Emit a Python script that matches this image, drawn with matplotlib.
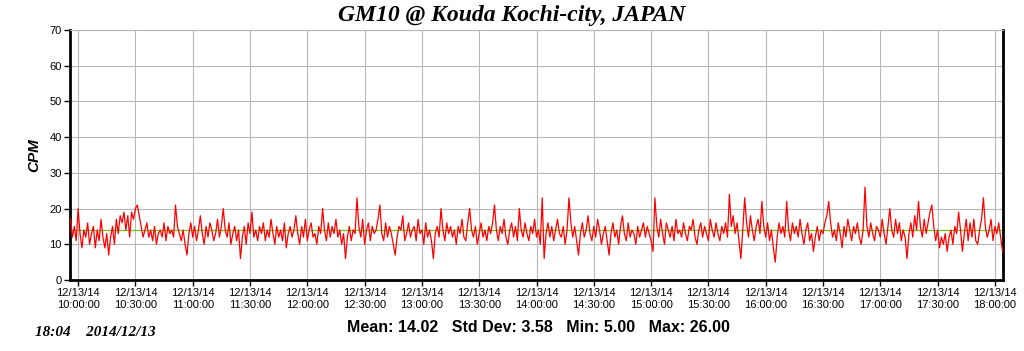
import matplotlib
matplotlib.use("Agg")
import matplotlib.pyplot as plt
import matplotlib.dates as mdates
import numpy as np
import pandas as pd

# counts per minute, one reading per minute from 09:56 to 18:04
cpm = [
    17, 12, 15, 11, 20, 13, 9, 14, 12, 16, 10, 13, 15, 9, 14, 11, 17, 12, 9, 13,
    7, 12, 15, 10, 17, 13, 18, 16, 19, 14, 18, 12, 19, 17, 20, 21, 18, 15, 12, 14,
    16, 12, 14, 11, 15, 10, 13, 14, 12, 16, 11, 15, 13, 14, 12, 21, 15, 13, 11, 14,
    10, 7, 13, 16, 12, 15, 11, 14, 18, 13, 10, 15, 12, 16, 14, 11, 13, 17, 12, 15,
    20, 14, 12, 16, 10, 13, 15, 11, 14, 6, 12, 15, 10, 16, 13, 19, 12, 14, 11, 15,
    13, 16, 11, 14, 12, 17, 13, 10, 15, 12, 14, 11, 16, 9, 13, 15, 12, 14, 18, 13,
    10, 15, 12, 17, 11, 14, 16, 12, 13, 10, 15, 13, 20, 14, 11, 16, 12, 15, 13, 17,
    12, 14, 10, 13, 6, 12, 15, 11, 14, 13, 23, 15, 12, 17, 10, 14, 16, 11, 15, 13,
    14, 17, 21, 13, 11, 16, 12, 15, 13, 10, 7, 12, 15, 14, 18, 11, 13, 16, 12, 14,
    15, 11, 17, 13, 14, 10, 16, 12, 14, 11, 6, 13, 15, 12, 20, 14, 11, 16, 13, 15,
    12, 14, 10, 15, 13, 17, 12, 11, 16, 20, 14, 12, 15, 10, 13, 16, 12, 14, 11, 15,
    13, 16, 21, 14, 11, 15, 13, 17, 12, 10, 14, 16, 12, 15, 11, 20, 14, 12, 16, 13,
    11, 15, 13, 17, 12, 14, 10, 23, 6, 13, 16, 12, 15, 11, 14, 17, 13, 12, 15, 10,
    14, 23, 16, 12, 15, 11, 7, 13, 16, 12, 14, 18, 13, 11, 15, 12, 17, 14, 10, 13,
    15, 11, 7, 13, 16, 12, 14, 10, 15, 18, 13, 11, 16, 12, 14, 13, 10, 15, 12, 14,
    16, 12, 15, 13, 11, 8, 23, 15, 12, 17, 13, 10, 16, 14, 12, 15, 11, 17, 13, 14,
    12, 16, 13, 11, 15, 14, 17, 12, 10, 14, 16, 12, 15, 13, 11, 17, 14, 12, 16, 13,
    11, 15, 13, 16, 12, 24, 15, 18, 13, 16, 11, 6, 14, 23, 16, 12, 18, 14, 11, 15,
    17, 13, 22, 15, 12, 16, 11, 14, 9, 5, 12, 16, 13, 15, 12, 22, 14, 11, 16, 13,
    15, 12, 17, 13, 10, 14, 16, 11, 13, 8, 12, 15, 11, 14, 13, 16, 18, 22, 16, 12,
    14, 11, 16, 13, 9, 15, 12, 17, 14, 11, 15, 13, 16, 12, 10, 14, 26, 15, 12, 16,
    13, 11, 15, 14, 12, 17, 13, 10, 15, 20, 14, 12, 17, 13, 16, 11, 14, 12, 6, 13,
    16, 12, 18, 14, 22, 15, 12, 17, 13, 16, 19, 21, 15, 11, 14, 9, 12, 10, 13, 8,
    12, 14, 10, 15, 13, 19, 14, 8, 13, 17, 11, 16, 12, 17, 11, 10, 14, 17, 23, 15,
    12, 14, 17, 11, 15, 13, 16, 12, 8,
]
start_time = "2014-12-13 09:56"
mean_cpm = 14.02
stats_text = "Mean: 14.02   Std Dev: 3.58   Min: 5.00   Max: 26.00"
stamp_text = "18:04    2014/12/13"
title = "GM10 @ Kouda Kochi-city, JAPAN"

times = pd.date_range(start_time, periods=len(cpm), freq="1min")

fig = plt.figure(figsize=(10.24, 3.51), dpi=100)
ax = fig.add_axes([70 / 1024, 1 - 280 / 351, 933 / 1024, 250 / 351])

ax.plot(times, cpm, color="#ff0000", lw=0.9, zorder=3)
ax.axhline(mean_cpm, color="#66cc00", lw=0.9, zorder=2)

ax.set_ylim(0, 70)
ax.set_yticks(np.arange(0, 71, 10))
ax.set_xlim(pd.Timestamp("2014-12-13 09:55:45"), pd.Timestamp("2014-12-13 18:04:15"))
ax.xaxis.set_major_locator(mdates.MinuteLocator(byminute=[0, 30]))
ax.xaxis.set_major_formatter(mdates.DateFormatter("%m/%d/%y\n%H:%M:%S"))

ax.grid(True, color="#b8b8b8", lw=0.8, zorder=0)
for side in ["left", "bottom", "right"]:
    ax.spines[side].set_linewidth(2)
    ax.spines[side].set_color("black")
ax.spines["top"].set_linewidth(0.8)
ax.spines["top"].set_color("#b8b8b8")

ax.tick_params(axis="both", labelsize=8, length=4, width=1, pad=2)
for lbl in ax.get_xticklabels() + ax.get_yticklabels():
    lbl.set_family("Liberation Sans")
for lbl in ax.get_xticklabels():
    lbl.set_linespacing(1.15)

ax.set_ylabel("CPM", family="Liberation Sans", fontsize=11, fontweight="bold",
              fontstyle="italic", labelpad=6)

fig.text(0.5, 0.955, title, ha="center", va="center", family="Liberation Serif",
         fontsize=17, fontweight="bold", fontstyle="italic")
fig.text(538 / 1024, 1 - 327 / 351, stats_text, ha="center", va="center",
         family="Liberation Sans", fontsize=11.5, fontweight="bold")
fig.text(35 / 1024, 1 - 333 / 351, stamp_text, ha="left", va="center",
         family="Liberation Serif", fontsize=11, fontweight="bold", fontstyle="italic")

fig.savefig("out.png", dpi=100)
